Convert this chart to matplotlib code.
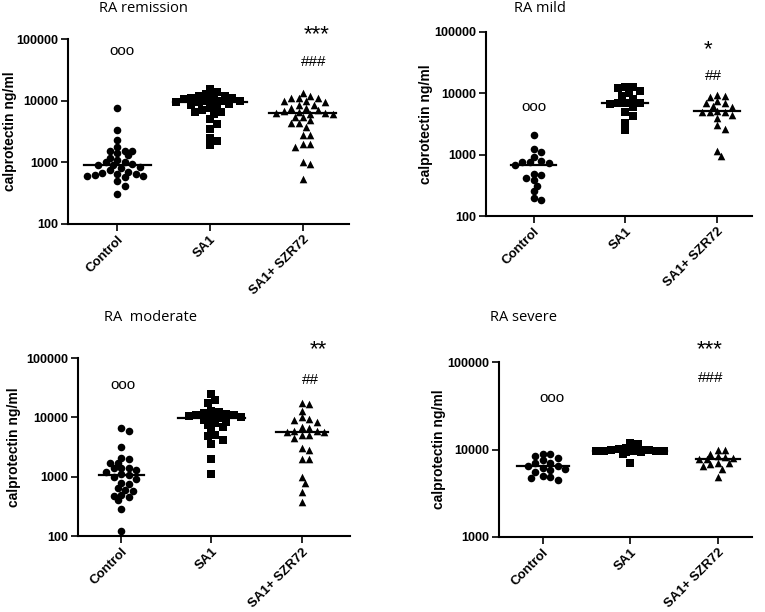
import numpy as np
import matplotlib
matplotlib.use("Agg")
from matplotlib import pyplot as plt

plt.rcParams['font.family'] = ['Liberation Sans', 'DejaVu Sans']

groups = ["Control", "SA1", "SA1+ SZR72"]
markers = ["o", "s", "^"]

# RA remission
rem_control = [7600, 3400, 2300, 1800, 1550, 1550, 1550, 1400, 1300, 1200, 1100, 1000, 1000, 950, 900,
               900, 850, 800, 750, 700, 680, 650, 650, 620, 600, 600, 580, 500, 420, 310]
rem_sa1 = [15500, 14000, 13000, 12000, 12000, 11500, 11000, 11000, 10500, 10000, 10000, 9800, 9600, 9500,
           9400, 9000, 8500, 8000, 7500, 7000, 6600, 6500, 6000, 5000, 4200, 3500, 2500, 2200, 1950]
rem_szr = [13500, 12000, 11000, 11000, 11000, 10000, 10000, 9500, 8500, 8500, 7500, 7500, 7000, 6800, 6500,
           6400, 6400, 6200, 6000, 5400, 5400, 4800, 4400, 4400, 3800, 2800, 2800, 2000, 2000, 1800, 1000,
           950, 540]

# RA mild
mild_control = [2100, 1250, 1100, 930, 800, 750, 750, 720, 680, 480, 470, 420, 380, 310, 260, 195, 180]
mild_sa1 = [12500, 12500, 12000, 11000, 10000, 9000, 8000, 7000, 7000, 7000, 6800, 6000, 5000, 4200, 3300, 2500]
mild_szr = [9500, 9000, 8600, 7500, 7000, 7000, 6200, 6000, 5100, 5000, 5000, 5000, 4500, 4000, 3000, 2600,
            1150, 950]

# RA moderate
mod_control = [6500, 6000, 3200, 2100, 2000, 1700, 1700, 1400, 1400, 1400, 1300, 1200, 1100, 1050, 1000,
               900, 800, 750, 650, 600, 570, 500, 480, 450, 400, 290, 120]
mod_sa1 = [25000, 20000, 17500, 13000, 12500, 12000, 11500, 11000, 11000, 10500, 10000, 10000, 9600, 9000,
           8500, 8000, 7500, 7000, 6000, 5000, 4800, 4200, 3600, 2000, 1100]
mod_szr = [17500, 16500, 13000, 10000, 9500, 9000, 8500, 7000, 6500, 6000, 6000, 5700, 5700, 5000, 5000,
           4500, 3000, 2800, 2000, 2000, 1000, 800, 560, 380]

# RA severe
sev_control = [9000, 8800, 8500, 8000, 7500, 7000, 7000, 6500, 6500, 6200, 6000, 5800, 5500, 5000, 4800,
               4700, 4500]
sev_sa1 = [12000, 11500, 10500, 10200, 10000, 10000, 10000, 9800, 9700, 9600, 9600, 9500, 9500, 9400, 9300,
           9000, 7000]
sev_szr = [10000, 9800, 9000, 8500, 8200, 8000, 7850, 7850, 7000, 7000, 6800, 6500, 6000, 4900]

panels = [
    dict(title="RA remission", data=[rem_control, rem_sa1, rem_szr], ylim=(100, 100000),
         rect=[0.089, 0.634, 0.367, 0.302], xlim=(-0.53, 2.5), title_xy=(143, 9), ylab_px=17,
         notes=[(0.05, 65000, "ooo", 11), (2.15, 118000, "***", 16), (2.12, 43000, "###", 11)]),
    dict(title="RA mild", data=[mild_control, mild_sa1, mild_szr], ylim=(100, 100000),
         rect=[0.635, 0.647, 0.348, 0.301], xlim=(-0.52, 2.38), title_xy=(540, 9), ylab_px=433,
         notes=[(0.0, 6000, "ooo", 11), (1.9, 52000, "*", 16), (1.96, 19400, "##", 11)]),
    dict(title="RA  moderate", data=[mod_control, mod_sa1, mod_szr], ylim=(100, 100000),
         rect=[0.102, 0.124, 0.356, 0.291], xlim=(-0.48, 2.54), title_xy=(151, 317), ylab_px=21,
         notes=[(0.02, 34700, "ooo", 11), (2.19, 140000, "**", 16), (2.1, 42300, "##", 11)]),
    dict(title="RA severe", data=[sev_control, sev_sa1, sev_szr], ylim=(1000, 100000),
         rect=[0.652, 0.123, 0.331, 0.285], xlim=(-0.5, 2.39), title_xy=(523, 317), ylab_px=446,
         notes=[(0.11, 38700, "ooo", 11), (1.91, 138000, "***", 16), (1.92, 66800, "###", 11)]),
]

W, H, DPI = 7.65, 6.12, 100
fig = plt.figure(figsize=(W, H), dpi=DPI)


def swarm(vals, px_x, px_dec, d=7.5, max_px=34):
    # greedy beeswarm in pixel space, points may overlap a little
    ys = np.log10(vals) * px_dec
    placed = []
    offs = np.zeros(len(vals))
    cand = [0.0]
    k = 1
    while k * d / 2 <= max_px:
        cand += [k * d / 2, -k * d / 2]
        k += 1
    thr = (d * 0.8) ** 2
    for i in np.argsort(-ys):
        best, best_hits = 0.0, None
        for c in cand:
            hits = sum((c - px) ** 2 + (ys[i] - py) ** 2 < thr for px, py in placed)
            if hits == 0:
                best = c
                break
            if best_hits is None or hits < best_hits:
                best, best_hits = c, hits
        offs[i] = best
        placed.append((best, ys[i]))
    return offs / px_x


for p in panels:
    ax = fig.add_axes(p["rect"])
    ax.set_yscale("log")
    ax.set_ylim(*p["ylim"])
    ax.set_xlim(*p["xlim"])
    w_px = p["rect"][2] * W * DPI
    h_px = p["rect"][3] * H * DPI
    px_x = w_px / (p["xlim"][1] - p["xlim"][0])
    px_dec = h_px / (np.log10(p["ylim"][1]) - np.log10(p["ylim"][0]))
    for i, vals in enumerate(p["data"]):
        vals = np.array(vals, dtype=float)
        offs = swarm(vals, px_x, px_dec)
        ax.scatter(i + offs, vals, marker=markers[i], s=30, color="black", linewidths=0, clip_on=False,
                   zorder=3)
        half = max(np.abs(offs).max() + 3.5 / px_x, 0.25)
        med = np.median(vals)
        ax.plot([i - half, i + half], [med, med], color="black", lw=1.6, zorder=4)
    for x, y, s, fs in p["notes"]:
        ax.text(x, y, s, ha="center", va="center", fontsize=fs, clip_on=False)
    ax.set_xticks(range(3))
    ax.set_xticklabels(groups, rotation=45, ha="right", rotation_mode="anchor",
                       fontsize=9.5, fontweight="bold")
    ax.yaxis.set_minor_locator(matplotlib.ticker.NullLocator())
    ax.yaxis.set_major_formatter(matplotlib.ticker.FuncFormatter(lambda v, _: "%d" % round(v)))
    for lab in ax.get_yticklabels():
        lab.set_fontweight("bold")
        lab.set_fontsize(9)
    ax.tick_params(length=5, width=1.2, pad=2)
    ax.spines["top"].set_visible(False)
    ax.spines["right"].set_visible(False)
    ax.spines["left"].set_linewidth(1.5)
    ax.spines["bottom"].set_linewidth(1.5)
    ax.set_ylabel("calprotectin ng/ml", fontsize=10, fontweight="bold")
    ax.yaxis.set_label_coords((p["ylab_px"] - p["rect"][0] * W * DPI) / w_px, 0.5)
    tx, ty = p["title_xy"]
    fig.text(tx / (W * DPI), 1 - ty / (H * DPI), p["title"], ha="center", va="center", fontsize=10.5,
             family=["Open Sans", "DejaVu Sans"])

fig.savefig("out.png", dpi=DPI)
